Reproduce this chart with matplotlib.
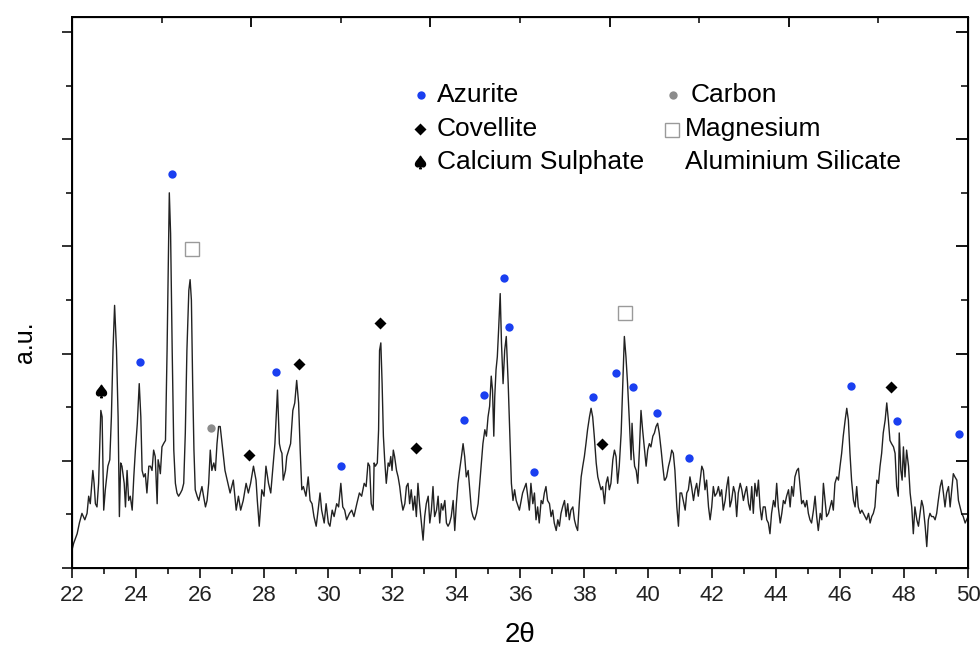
import matplotlib
matplotlib.use("Agg")
import matplotlib.pyplot as plt
from matplotlib.ticker import MultipleLocator, NullFormatter

plt.rcParams['font.family'] = ['Liberation Sans', 'DejaVu Sans']

# XRD pattern (2theta in degrees, intensity in a.u.)
two_theta = [
    22.00, 22.05, 22.16, 22.23, 22.31, 22.40, 22.47, 22.52, 22.57, 22.65, 22.69, 22.73, 22.78, 22.83,
    22.90, 22.94, 22.99, 23.04, 23.12, 23.18, 23.23, 23.28, 23.33, 23.39, 23.44, 23.48, 23.52, 23.56,
    23.63, 23.67, 23.72, 23.77, 23.82, 23.88, 23.93, 23.98, 24.04, 24.10, 24.15, 24.19, 24.24, 24.29,
    24.34, 24.40, 24.45, 24.50, 24.55, 24.60, 24.66, 24.69, 24.73, 24.76, 24.81, 24.86, 24.92, 24.97,
    25.02, 25.04, 25.08, 25.13, 25.18, 25.23, 25.28, 25.33, 25.39, 25.44, 25.49, 25.54, 25.59, 25.65,
    25.69, 25.73, 25.77, 25.81, 25.85, 25.91, 25.96, 26.01, 26.06, 26.11, 26.17, 26.22, 26.27, 26.32,
    26.37, 26.43, 26.48, 26.53, 26.58,
    26.63, 26.71, 26.78, 26.85, 26.94, 27.04, 27.13, 27.20, 27.27, 27.35, 27.44, 27.51, 27.58, 27.67,
    27.75, 27.79, 27.85, 27.93, 28.00, 28.06, 28.14, 28.21, 28.27, 28.34, 28.42, 28.48, 28.52, 28.56,
    28.60, 28.67, 28.71, 28.77, 28.83, 28.90, 28.96, 29.02, 29.08, 29.13, 29.18, 29.23, 29.31, 29.38,
    29.44, 29.50, 29.56, 29.63, 29.69, 29.75, 29.80, 29.88, 29.94, 30.01, 30.06, 30.13, 30.19, 30.27,
    30.33, 30.40, 30.46, 30.52, 30.58, 30.67, 30.74, 30.81, 30.90, 30.98, 31.05, 31.13, 31.19,
    31.25, 31.30, 31.35, 31.41, 31.44, 31.48, 31.54, 31.58, 31.61, 31.65, 31.69, 31.73, 31.77, 31.82,
    31.88, 31.92, 31.96, 32.00, 32.04, 32.08, 32.14, 32.19, 32.24, 32.29, 32.34, 32.40, 32.45, 32.50,
    32.55, 32.60, 32.66, 32.71, 32.76, 32.81, 32.86, 32.92, 32.97, 33.02, 33.07, 33.13, 33.18, 33.23,
    33.28, 33.33, 33.39, 33.44, 33.49, 33.54, 33.59, 33.65, 33.70, 33.75, 33.80, 33.85, 33.91, 33.96,
    34.01, 34.06, 34.11, 34.17, 34.22, 34.27, 34.32, 34.38, 34.43, 34.48, 34.53, 34.58, 34.64, 34.69,
    34.74, 34.79, 34.84, 34.90, 34.95, 35.00, 35.05, 35.10, 35.14, 35.18, 35.21, 35.25, 35.29, 35.33,
    35.38, 35.42, 35.47, 35.52, 35.57, 35.63, 35.68, 35.73, 35.78, 35.83,
    35.88, 35.98, 36.08, 36.19, 36.24, 36.29, 36.34, 36.40, 36.45, 36.50, 36.55, 36.60, 36.66, 36.71,
    36.76, 36.81, 36.86, 36.92, 36.97, 37.02, 37.07, 37.13, 37.18, 37.23, 37.28, 37.33, 37.39, 37.44,
    37.49, 37.54, 37.59, 37.65, 37.70, 37.75, 37.80, 37.85, 37.91, 37.96, 38.01, 38.06, 38.11, 38.17,
    38.22, 38.27, 38.32, 38.38, 38.43, 38.48, 38.53, 38.58, 38.64, 38.69, 38.74, 38.79, 38.84, 38.90,
    38.95, 39.00, 39.05, 39.10, 39.16, 39.21, 39.26, 39.31, 39.36, 39.42, 39.47, 39.50, 39.54, 39.58,
    39.63, 39.68, 39.73, 39.78, 39.83, 39.89, 39.94, 39.99, 40.04, 40.09, 40.15, 40.20, 40.25, 40.30,
    40.35, 40.41, 40.46, 40.51,
    40.53, 40.58, 40.64, 40.69, 40.74, 40.79, 40.84, 40.90, 40.95, 41.00, 41.05, 41.10, 41.16, 41.21,
    41.26, 41.31, 41.36, 41.42, 41.47, 41.52, 41.57, 41.63, 41.68, 41.73, 41.78, 41.83, 41.89, 41.94,
    41.99, 42.04, 42.09, 42.15, 42.20, 42.25, 42.30, 42.35, 42.41, 42.46, 42.51, 42.56, 42.61, 42.67,
    42.72, 42.77, 42.82, 42.88, 42.93, 42.98, 43.03, 43.08, 43.14, 43.19, 43.24, 43.29, 43.34, 43.40,
    43.45, 43.50, 43.55, 43.60, 43.66, 43.71, 43.76, 43.81, 43.86, 43.92, 43.97, 44.02, 44.07, 44.13,
    44.18, 44.23, 44.28, 44.33, 44.39, 44.44, 44.49, 44.54, 44.59, 44.65, 44.70, 44.75, 44.80, 44.85,
    44.91, 44.96, 45.01, 45.06, 45.11, 45.17, 45.22, 45.27, 45.32, 45.38, 45.43, 45.48, 45.53, 45.58,
    45.64, 45.69, 45.74, 45.79, 45.84, 45.90, 45.95, 46.00, 46.05, 46.10, 46.16, 46.21, 46.26, 46.31,
    46.36, 46.42, 46.47, 46.52, 46.57, 46.63, 46.68, 46.73, 46.78, 46.83, 46.89, 46.94, 46.99, 47.04,
    47.09, 47.15, 47.20, 47.25, 47.30, 47.35, 47.41, 47.46, 47.51, 47.56, 47.61, 47.67, 47.72, 47.77,
    47.82, 47.85, 47.90, 47.94, 47.98, 48.03, 48.08, 48.14, 48.19, 48.24, 48.29, 48.34, 48.40, 48.45,
    48.50, 48.55, 48.60, 48.66, 48.71, 48.76, 48.81, 48.86, 48.92, 48.97, 49.02, 49.07, 49.13, 49.18,
    49.23, 49.28, 49.33, 49.39, 49.44, 49.49, 49.54, 49.59, 49.65, 49.70, 49.75, 49.80, 49.85, 49.91,
    50.00,
]
intensity = [
    17, 23, 32, 42, 51, 45, 51, 67, 60, 91, 79, 60, 57, 79,
    147, 141, 54, 73, 95, 101, 141, 203, 245, 203, 141, 48, 98, 95,
    79, 57, 91, 63, 67, 54, 85, 110, 135, 172, 141, 91, 85, 88,
    70, 95, 95, 91, 110, 104, 60, 101, 95, 88, 113, 116, 119, 203,
    312, 350, 312, 203, 110, 79, 70, 67, 70, 73, 79, 126, 203, 259,
    269, 250, 172, 110, 73, 67, 63, 70, 76, 67, 57, 63, 79, 110,
    91, 98, 91, 116, 132,
    132, 110, 91, 82, 70, 82, 54, 67, 54, 63, 79, 70, 79, 95,
    82, 63, 39, 73, 67, 95, 79, 70, 91, 116, 166, 116, 110, 107,
    82, 91, 104, 110, 116, 147, 154, 175, 154, 110, 73, 76, 67, 85,
    63, 60, 48, 39, 54, 70, 54, 42, 60, 42, 39, 54, 48, 60,
    57, 79, 57, 54, 45, 51, 54, 48, 60, 70, 67, 79, 76,
    98, 95, 60, 54, 98, 95, 98, 129, 203, 210, 172, 123, 101, 79,
    98, 95, 104, 91, 110, 104, 91, 85, 76, 63, 54, 60, 76, 79,
    60, 73, 54, 67, 48, 79, 60, 42, 26, 48, 60, 67, 42, 54,
    76, 48, 54, 67, 42, 60, 54, 63, 42, 39, 42, 48, 63, 35,
    60, 79, 91, 104, 116, 104, 85, 91, 73, 54, 48, 45, 51, 60,
    79, 98, 116, 129, 123, 141, 151, 179, 166, 123, 160, 185, 197, 222,
    256, 210, 172, 203, 216, 172, 126, 79, 63, 73,
    63, 54, 70, 79, 67, 54, 79, 60, 70, 45, 57, 42, 63, 60,
    70, 76, 63, 60, 48, 54, 42, 35, 45, 39, 51, 57, 63, 48,
    60, 45, 54, 57, 45, 39, 35, 60, 85, 95, 104, 116, 129, 141,
    149, 141, 123, 98, 85, 79, 73, 76, 60, 79, 85, 73, 79, 101,
    110, 104, 79, 95, 126, 172, 216, 197, 172, 135, 101, 135, 110, 95,
    91, 79, 110, 147, 129, 110, 95, 110, 116, 113, 123, 126, 132, 135,
    126, 110, 95, 82,
    82, 85, 95, 101, 110, 107, 91, 57, 39, 70, 70, 63, 54, 70,
    73, 85, 76, 63, 73, 79, 67, 82, 95, 91, 73, 82, 57, 45,
    57, 76, 67, 70, 76, 67, 73, 54, 63, 76, 85, 57, 63, 76,
    70, 48, 70, 79, 73, 63, 70, 76, 60, 54, 76, 51, 79, 67,
    82, 57, 45, 57, 57, 45, 42, 32, 51, 63, 57, 79, 57, 42,
    51, 63, 60, 67, 73, 57, 76, 67, 85, 91, 93, 76, 60, 63,
    57, 63, 51, 45, 42, 54, 67, 48, 35, 51, 45, 79, 63, 48,
    51, 57, 63, 54, 79, 85, 82, 95, 107, 123, 138, 149, 138, 107,
    82, 63, 57, 76, 57, 51, 54, 51, 48, 45, 51, 42, 48, 51,
    57, 82, 79, 95, 107, 126, 138, 154, 138, 119, 116, 113, 107, 76,
    67, 126, 91, 82, 113, 85, 110, 95, 70, 57, 32, 57, 45, 39,
    51, 63, 57, 39, 20, 45, 51, 48, 48, 45, 51, 63, 76, 82,
    70, 57, 70, 76, 57, 73, 88, 85, 82, 63, 57, 51, 48, 42,
    48,
]

# phase markers: (2theta, height)
azurite_x = [24.12, 25.11, 28.38, 30.40, 34.25, 34.88, 35.49, 35.67, 36.43, 38.27, 39.00, 39.52, 40.27,
             41.28, 46.35, 47.78, 49.71]
azurite_y = [192, 368, 183, 95, 138, 161, 271, 225, 90, 160, 182, 169, 145, 103, 170, 137, 125]
covellite_x = [27.53, 29.08, 31.63, 32.74, 38.55, 47.59]
covellite_y = [105, 190, 229, 112, 116, 169]
sulphate_x = [22.89]
sulphate_y = [165]
carbon_x = [26.35]
carbon_y = [131]
silicate_x = [25.75, 39.28]
silicate_y = [298, 238]

blue = '#1a3ff0'

fig = plt.figure(figsize=(9.8, 6.52), dpi=100)
ax = fig.add_axes([0.0735, 0.1288, 0.9143, 0.8451])

ax.plot(two_theta, intensity, color='#222222', lw=1.0)

ax.plot(azurite_x, azurite_y, 'o', color=blue, ms=6, mec='none')
ax.plot(covellite_x, covellite_y, 'D', color='black', ms=6.5, mec='none')
ax.plot(sulphate_x, sulphate_y, marker=r'$\spadesuit$', color='black', ls='none', ms=9)
ax.plot(carbon_x, carbon_y, 'o', color='#8c8c8c', ms=6, mec='none')
ax.plot(silicate_x, silicate_y, 's', mfc='white', mec='#9a9a9a', mew=1.0, ms=9.5, ls='none')

# legend drawn by hand (like the original)
tr = ax.transAxes
fs = 19
ax.plot([0.3895], [0.858], 'o', color=blue, ms=6, mec='none', transform=tr)
ax.text(0.407, 0.858, 'Azurite', fontsize=fs, va='center', ha='left', transform=tr)
ax.plot([0.388], [0.797], 'D', color='black', ms=6.5, mec='none', transform=tr)
ax.text(0.407, 0.797, 'Covellite', fontsize=fs, va='center', ha='left', transform=tr)
ax.plot([0.388], [0.737], marker=r'$\spadesuit$', color='black', ms=9, ls='none', transform=tr)
ax.text(0.407, 0.737, 'Calcium Sulphate', fontsize=fs, va='center', ha='left', transform=tr)
ax.plot([0.671], [0.858], 'o', color='#8c8c8c', ms=6, mec='none', transform=tr)
ax.text(0.690, 0.858, 'Carbon', fontsize=fs, va='center', ha='left', transform=tr)
ax.plot([0.670], [0.795], 's', mfc='white', mec='#9a9a9a', mew=1.0, ms=9.5, ls='none', transform=tr)
ax.text(0.684, 0.797, 'Magnesium', fontsize=fs, va='center', ha='left', transform=tr)
ax.text(0.684, 0.737, 'Aluminium Silicate', fontsize=fs, va='center', ha='left', transform=tr)

ax.set_xlim(22, 50)
ax.set_ylim(0, 514)
ax.xaxis.set_major_locator(MultipleLocator(2))
ax.xaxis.set_minor_locator(MultipleLocator(1))
ax.yaxis.set_major_locator(MultipleLocator(100))
ax.yaxis.set_minor_locator(MultipleLocator(50))
ax.yaxis.set_major_formatter(NullFormatter())
ax.tick_params(which='major', direction='out', length=7, width=1.3, labelsize=16, colors='#222222')
ax.tick_params(which='minor', direction='out', length=4, width=1.1)
ax.tick_params(axis='x', pad=5)
for s in ax.spines.values():
    s.set_linewidth(1.4)

# right axis ticks point inward
axr = ax.twinx()
axr.set_ylim(ax.get_ylim())
axr.yaxis.set_major_locator(MultipleLocator(100))
axr.yaxis.set_minor_locator(MultipleLocator(50))
axr.yaxis.set_major_formatter(NullFormatter())
axr.tick_params(which='major', direction='in', length=9, width=1.3)
axr.tick_params(which='minor', direction='in', length=5, width=1.1)

# top axis: separate scale, ticks inward
axt = ax.twiny()
axt.set_xlim(0, 10)
axt.xaxis.set_major_locator(MultipleLocator(2))
axt.xaxis.set_minor_locator(MultipleLocator(1))
axt.xaxis.set_major_formatter(NullFormatter())
axt.tick_params(which='major', direction='in', length=7, width=1.3)
axt.tick_params(which='minor', direction='in', length=4, width=1.1)

ax.set_xlabel('2θ', fontsize=20, labelpad=12)
fig.text(0.026, 1 - 342 / 652, 'a.u.', rotation=90, fontsize=18, va='center', ha='center')

fig.savefig('out.png', dpi=100)
